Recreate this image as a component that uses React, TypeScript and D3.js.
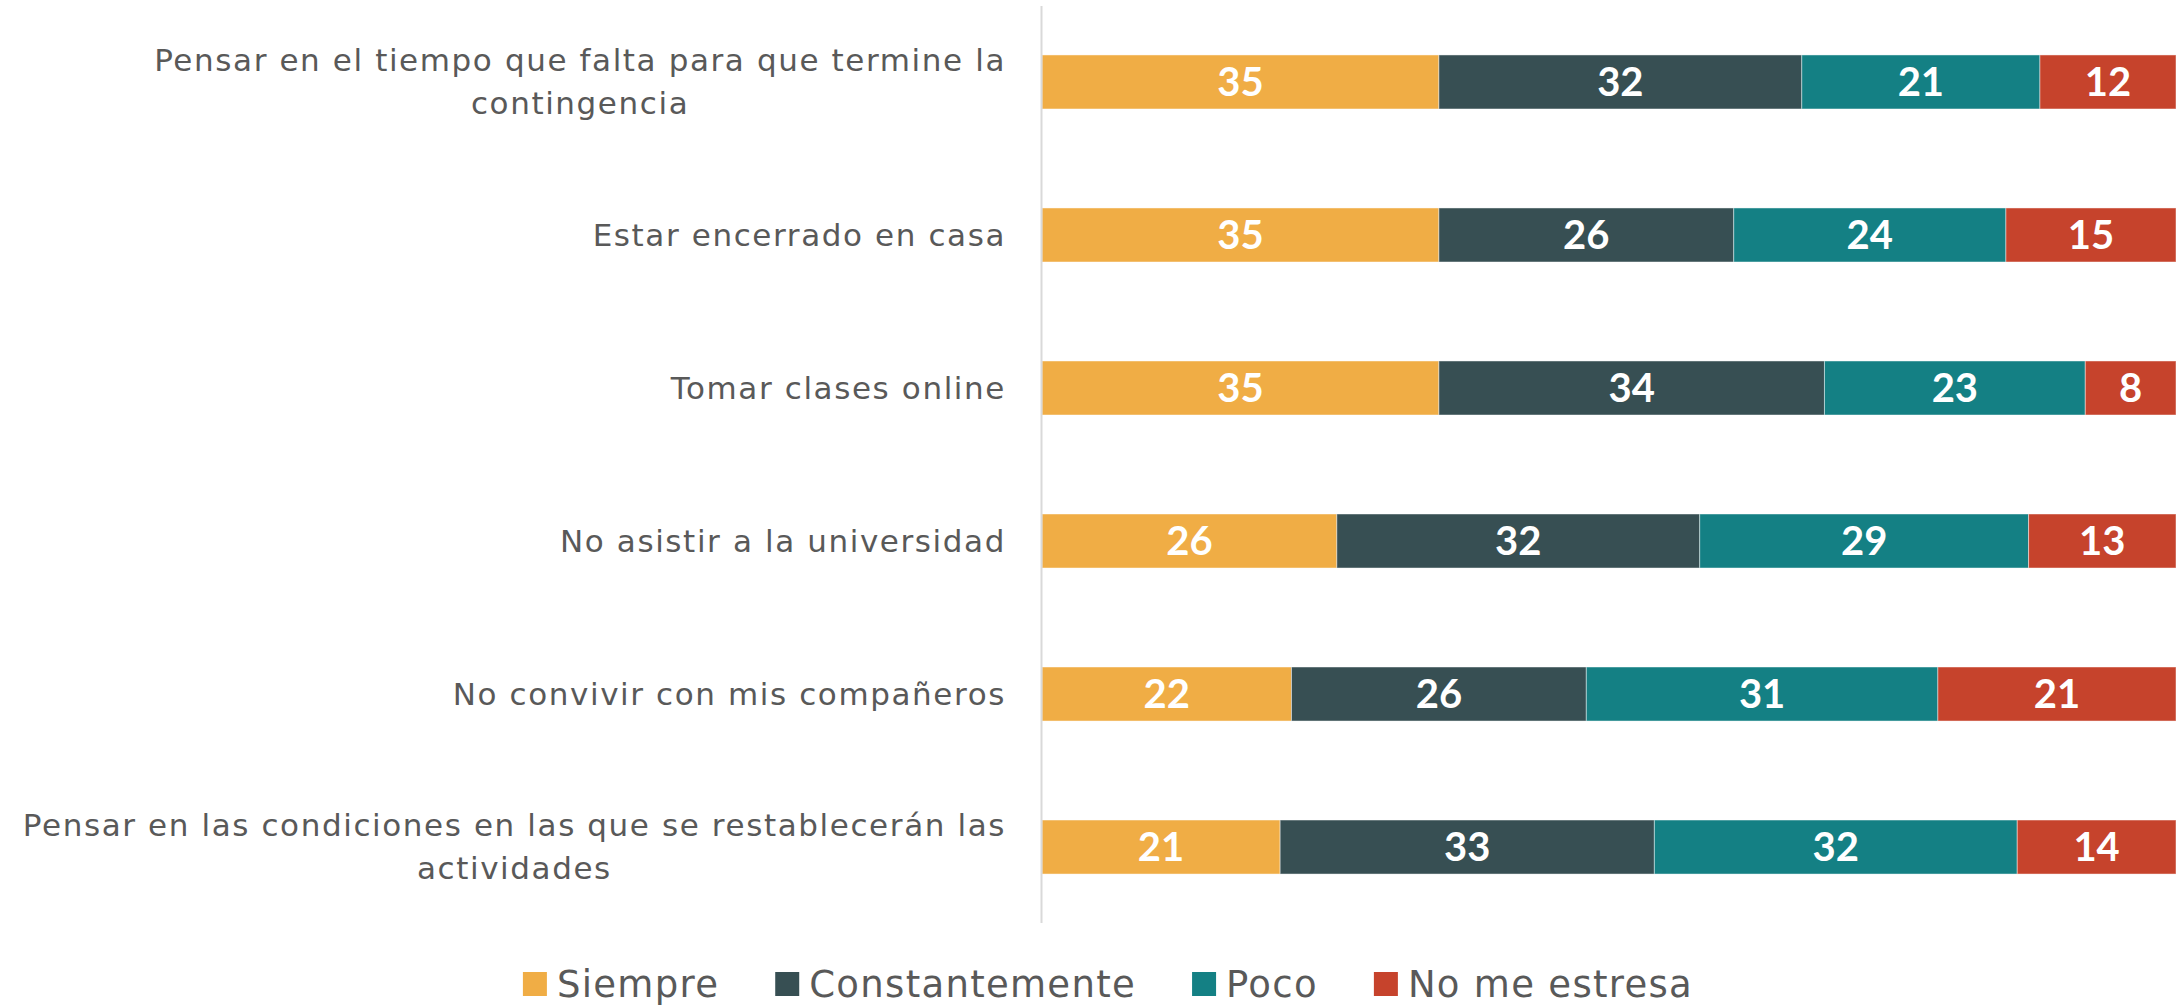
import { useEffect, useRef } from "react";
import * as d3 from "d3";

const categories = [
  ["Pensar en el tiempo que falta para que termine la", "contingencia"],
  ["Estar encerrado en casa"],
  ["Tomar clases online"],
  ["No asistir a la universidad"],
  ["No convivir con mis compañeros"],
  ["Pensar en las condiciones en las que se restablecerán las", "actividades"],
];
const seriesNames = ["Siempre", "Constantemente", "Poco", "No me estresa"];
const siempre = [35, 35, 35, 26, 22, 21];
const constantemente = [32, 26, 34, 32, 26, 33];
const poco = [21, 24, 23, 29, 31, 32];
const noMeEstresa = [12, 15, 8, 13, 21, 14];
const colors = ["#F0AD45", "#374F53", "#148084", "#C6432C"];

const W = 2183;
const H = 1008;

const App = () => {
  const ref = useRef<SVGSVGElement | null>(null);

  useEffect(() => {
    if (!ref.current) return;
    const svg = d3.select(ref.current);
    svg.selectAll("*").remove();

    const left = 1042;
    const right = 2176;
    const top = 6;
    const bottom = 923;

    const rows = categories.map((c, i) => ({
      key: String(i),
      lines: c,
      values: [siempre[i], constantemente[i], poco[i], noMeEstresa[i]],
    }));

    const x = d3.scaleLinear().domain([0, 100]).range([left, right]);
    const y = d3
      .scaleBand<string>()
      .domain(rows.map((r) => r.key))
      .range([top, bottom])
      .paddingInner(0.647)
      .paddingOuter(0.32);

    const stacked = rows.map((r) => {
      let acc = 0;
      return r.values.map((v, j) => {
        const s = { row: r.key, j, v, x0: acc, x1: acc + v };
        acc += v;
        return s;
      });
    });

    const segs = svg.append("g");
    segs
      .selectAll("rect")
      .data(stacked.flat())
      .enter()
      .append("rect")
      .attr("x", (d) => x(d.x0))
      .attr("y", (d) => y(d.row)!)
      .attr("width", (d) => x(d.x1) - x(d.x0))
      .attr("height", y.bandwidth())
      .attr("fill", (d) => colors[d.j])
      .attr("stroke", "rgba(255,255,255,0.45)")
      .attr("stroke-width", 1);

    segs
      .selectAll("text")
      .data(stacked.flat())
      .enter()
      .append("text")
      .attr("x", (d) => (x(d.x0) + x(d.x1)) / 2)
      .attr("y", (d) => y(d.row)! + y.bandwidth() / 2)
      .attr("dy", "0.36em")
      .attr("text-anchor", "middle")
      .attr("fill", "#ffffff")
      .attr("font-family", "Lato")
      .attr("font-weight", "bold")
      .attr("font-size", 40)
      .text((d) => d.v);

    // axis line
    svg
      .append("line")
      .attr("x1", left - 0.5)
      .attr("x2", left - 0.5)
      .attr("y1", top)
      .attr("y2", bottom)
      .attr("stroke", "#d9d9d9")
      .attr("stroke-width", 2);

    // category labels, block right-aligned, lines centred within block
    const labelRight = 1006;
    const lineH = 43;
    rows.forEach((r) => {
      const cy = y(r.key)! + y.bandwidth() / 2;
      const g = svg.append("g");
      const texts = r.lines.map((line, k) =>
        g
          .append("text")
          .attr("y", cy + (k - (r.lines.length - 1) / 2) * lineH)
          .attr("dy", "0.35em")
          .attr("text-anchor", "middle")
          .attr("fill", "#595959")
          .attr("font-family", "DejaVu Sans")
          .attr("font-size", 31)
          .attr("letter-spacing", 1.6)
          .text(line)
      );
      const widths = texts.map((t) => (t.node() as SVGTextElement).getComputedTextLength());
      const maxW = d3.max(widths) || 0;
      texts.forEach((t) => t.attr("x", labelRight - maxW / 2));
    });

    // legend
    const legendY = 984;
    const sq = 24;
    const gap = 56;
    const lg = svg.append("g");
    let cx = 0;
    seriesNames.forEach((name, i) => {
      lg.append("rect")
        .attr("x", cx)
        .attr("y", legendY - sq / 2)
        .attr("width", sq)
        .attr("height", sq)
        .attr("fill", colors[i]);
      const t = lg
        .append("text")
        .attr("x", cx + sq + 10)
        .attr("y", legendY)
        .attr("dy", "0.36em")
        .attr("fill", "#595959")
        .attr("font-family", "DejaVu Sans")
        .attr("font-size", 37)
        .attr("letter-spacing", 1.3)
        .text(name);
      const tw = (t.node() as SVGTextElement).getComputedTextLength();
      cx += sq + 10 + tw + gap;
    });
    const totalW = cx - gap;
    lg.attr("transform", `translate(${1108 - totalW / 2},0)`);
  }, []);

  return (
    <svg
      ref={ref}
      width={W}
      height={H}
      style={{ position: "absolute", left: 0, top: 0, background: "#fff" }}
    />
  );
};

export default App;
